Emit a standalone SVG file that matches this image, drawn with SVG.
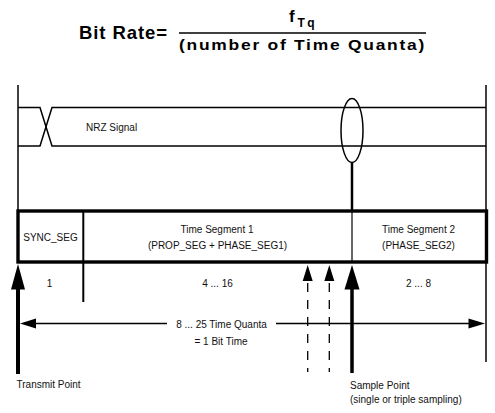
<svg xmlns="http://www.w3.org/2000/svg" width="495" height="413" viewBox="0 0 495 413">
<style>
.t{font-family:"Liberation Sans",Arial,sans-serif;font-size:10px;fill:#111}
.tm{text-anchor:middle}
.ttl{font-family:"Liberation Sans",Arial,sans-serif;font-weight:bold;fill:#000}
.ln{stroke:#000;fill:none;stroke-width:1.5}
.hd{fill:#000;stroke:none}
</style>
<rect width="495" height="413" fill="#fff"/>
<g id="title">
<text class="ttl" x="79" y="39" font-size="18.5" textLength="88" lengthAdjust="spacing">Bit Rate=</text>
<text class="ttl" x="289" y="22" font-size="17">f</text>
<text class="ttl" x="297.5" y="27" font-size="12" textLength="17" lengthAdjust="spacing">Tq</text>
<line x1="179" y1="33" x2="426" y2="33" stroke="#000" stroke-width="1.5"/>
<text class="ttl" x="179" y="49.5" font-size="15" letter-spacing="1.5" textLength="247" lengthAdjust="spacingAndGlyphs">(number of Time Quanta)</text>
</g>
<g id="frame">
<line class="ln" x1="18" y1="85" x2="18" y2="211"/>
<line class="ln" x1="486" y1="85" x2="486" y2="362"/>
</g>
<g id="nrz-signal">
<path class="ln" d="M18,107.5H40L52,146H486"/>
<path class="ln" d="M18,146H40L52,107.5H486"/>
<text class="t" x="86" y="131">NRZ Signal</text>
<ellipse class="ln" cx="352" cy="130.5" rx="11" ry="32"/>
</g>
<g id="bit-time-box">
<rect x="18" y="211" width="468.5" height="51" fill="none" stroke="#000" stroke-width="3.4"/>
</g>
<g id="sync-seg">
<line x1="83.3" y1="211" x2="83.3" y2="302" stroke="#000" stroke-width="2"/>
<text class="t tm" x="50.5" y="241">SYNC_SEG</text>
<text class="t tm" x="49.5" y="287">1</text>
</g>
<g id="time-segment-1">
<text class="t tm" x="217" y="233">Time Segment 1</text>
<text class="t tm" x="217.5" y="249">(PROP_SEG + PHASE_SEG1)</text>
<text class="t tm" x="217.5" y="287">4 ... 16</text>
</g>
<g id="time-segment-2">
<line x1="352" y1="211" x2="352" y2="262" stroke="#000" stroke-width="1.2"/>
<text class="t tm" x="418.5" y="233">Time Segment 2</text>
<text class="t tm" x="418.5" y="249">(PHASE_SEG2)</text>
<text class="t tm" x="418.5" y="287">2 ... 8</text>
</g>
<g id="connectors">
<line x1="352" y1="162.5" x2="352" y2="211" stroke="#000" stroke-width="2.5"/>
<line x1="18" y1="288" x2="18" y2="374" stroke="#000" stroke-width="4"/>
<polygon class="hd" points="18,264 11,289.5 25,289.5"/>
<line x1="352" y1="288" x2="352" y2="373" stroke="#000" stroke-width="3.5"/>
<polygon class="hd" points="352,265 344.5,289.5 359.5,289.5"/>
<line x1="307.7" y1="283" x2="307.7" y2="372" stroke="#000" stroke-width="1.3" stroke-dasharray="9,8"/>
<polygon class="hd" points="307.7,265 302.7,281 312.7,281"/>
<line x1="329.3" y1="283" x2="329.3" y2="372" stroke="#000" stroke-width="1.3" stroke-dasharray="9,8"/>
<polygon class="hd" points="329.3,265 324.3,281 334.3,281"/>
<line x1="34" y1="323.5" x2="167" y2="323.5" stroke="#000" stroke-width="1.3"/>
<line x1="276" y1="323.5" x2="470" y2="323.5" stroke="#000" stroke-width="1.3"/>
<polygon class="hd" points="20,323.5 36,318.5 36,328.5"/>
<polygon class="hd" points="485,323.5 468.5,318.5 468.5,328.5"/>
</g>
<g id="labels">
<text class="t tm" x="221.5" y="327.5">8 ... 25 Time Quanta</text>
<text class="t tm" x="221" y="345">= 1 Bit Time</text>
<text class="t" x="16.5" y="387.5">Transmit Point</text>
<text class="t" x="350" y="388.5">Sample Point</text>
<text class="t" x="350" y="402.5">(single or triple sampling)</text>
</g>
</svg>
